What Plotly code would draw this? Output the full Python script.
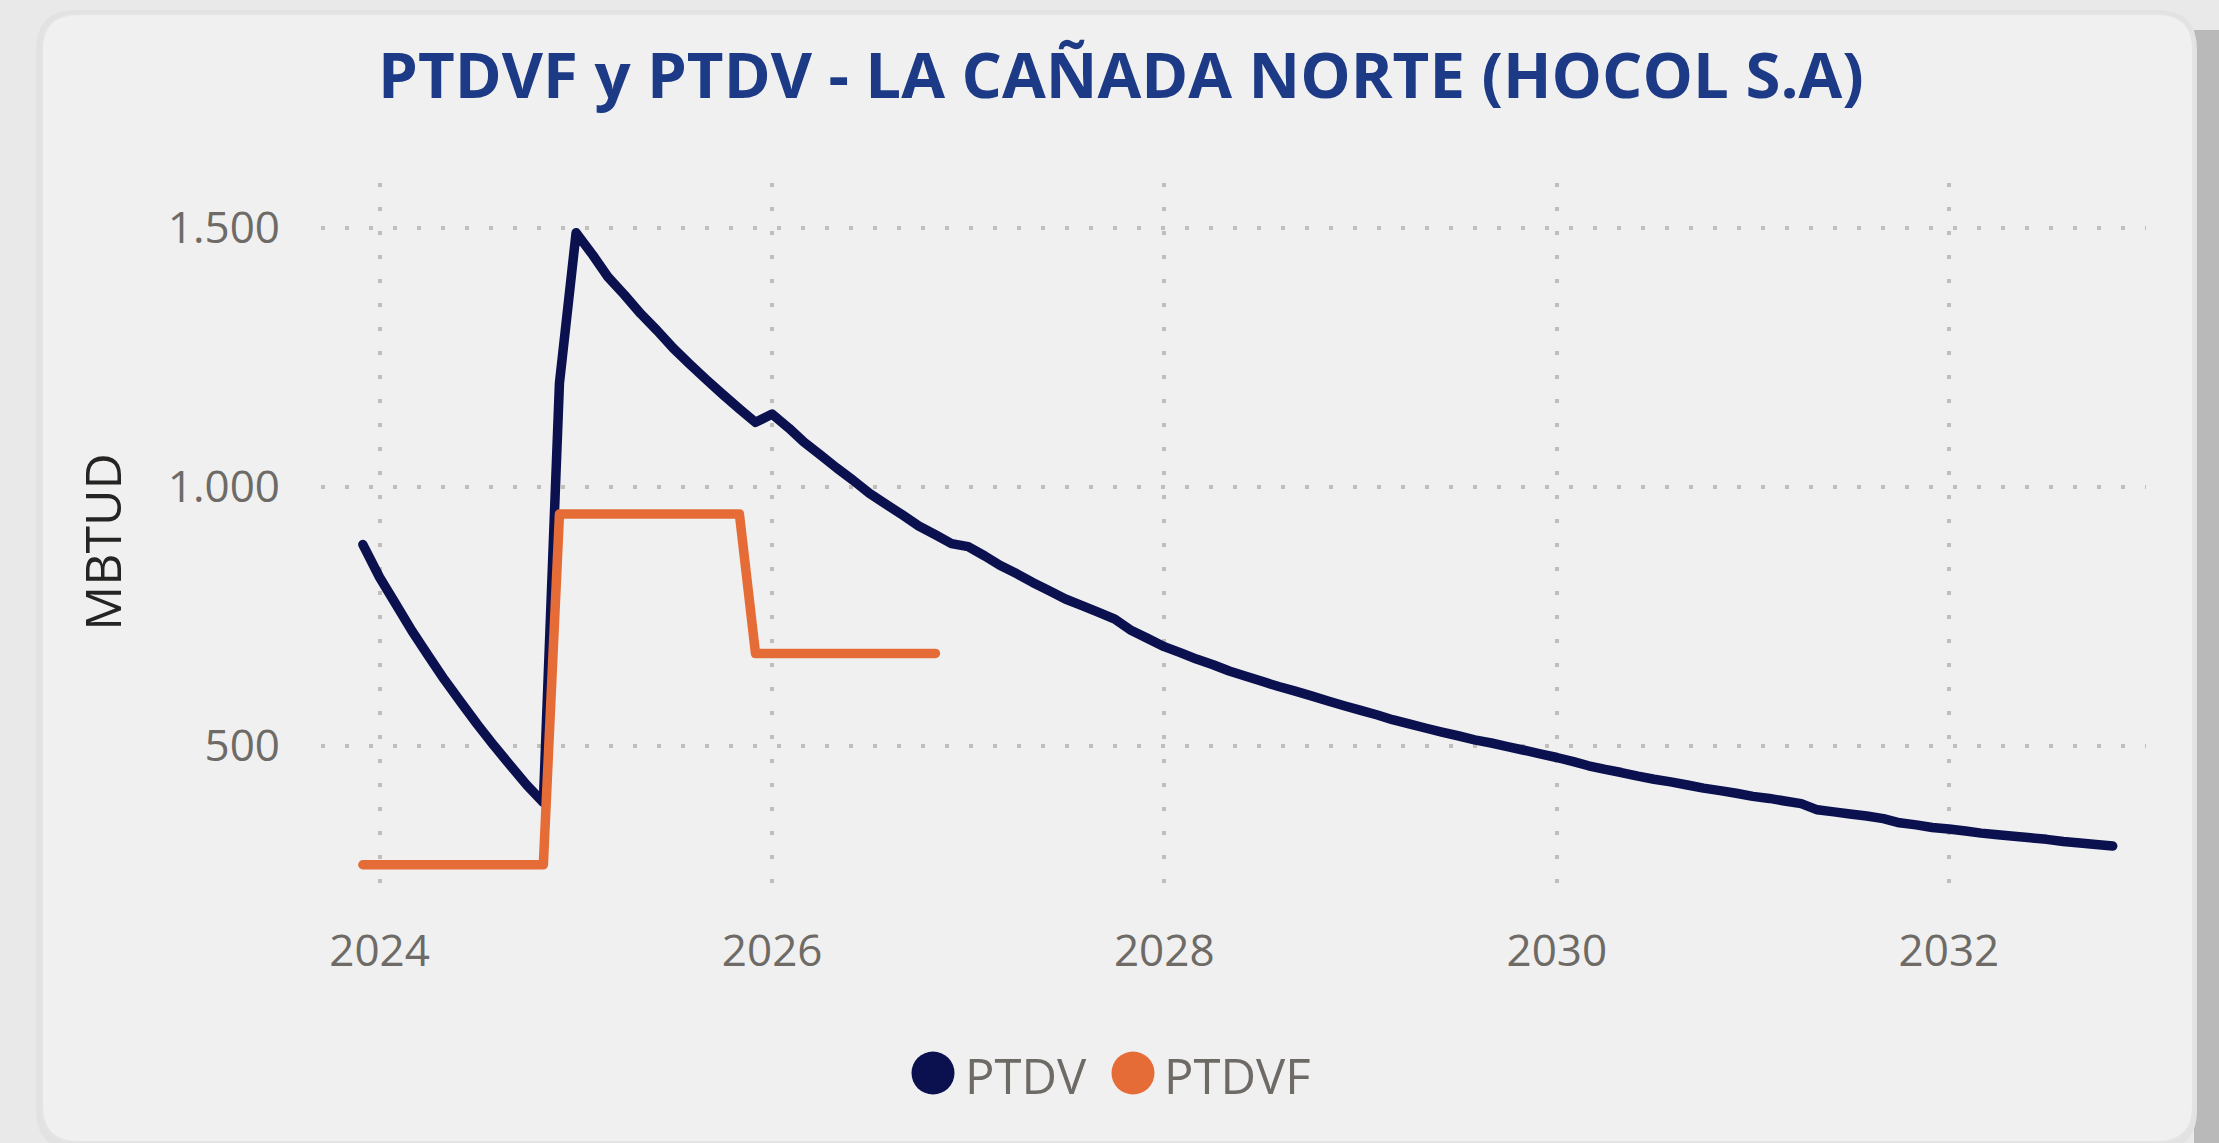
import pandas as pd
import plotly.graph_objects as go

# ---------------- data ----------------
ptdv_start = "2023-12-01"
ptdv_values = [
    888,
    825, 772, 722, 673, 627, 583, 541, 500, 461, 424, 390, 1200,
    1490, 1447, 1405, 1370, 1334, 1301, 1267, 1236, 1206, 1178, 1150, 1124,
    1140, 1113, 1086, 1061, 1036, 1012, 987, 966, 945, 924, 907, 890,
    884, 866, 848, 832, 815, 799, 783, 770, 757, 744, 722, 707,
    691, 679, 667, 656, 644, 634, 624, 614, 605, 596, 586, 577,
    568, 559, 550, 542, 534, 526, 519, 511, 505, 498, 491, 484,
    477, 469, 461, 454, 448, 441, 435, 430, 424, 418, 413, 408,
    402, 398, 393, 388, 376, 372, 368, 364, 359, 351, 347, 342,
    339, 335, 331, 328, 325, 322, 319, 315, 312, 309, 306,
]
ptdvf_start = "2023-12-01"
ptdvf_values = [270] * 12 + [947] * 12 + [678] * 12

ptdv_dates = pd.date_range(ptdv_start, periods=len(ptdv_values), freq="MS")
ptdvf_dates = pd.date_range(ptdvf_start, periods=len(ptdvf_values), freq="MS")

series_names = ["PTDV", "PTDVF"]
y_tick_vals = [500, 1000, 1500]
y_tick_text = ["500", "1.000", "1.500"]
x_tick_vals = ["2024-01-01", "2026-01-01", "2028-01-01", "2030-01-01", "2032-01-01"]
x_tick_text = ["2024", "2026", "2028", "2030", "2032"]

title_text = "PTDVF y PTDV - LA CAÑADA NORTE (HOCOL S.A)"
y_title = "MBTUD"

# ---------------- layout geometry ----------------
W, H = 2219, 1143
L, R, T, B = 321, 2146, 183, 901

def px2x(px):
    return (px - L) / (R - L)

def px2y(py):
    return (B - py) / (B - T)

NAVY = "#0B114F"
ORANGE = "#E66C37"
CARD = "#F0F0F0"
TICK = "#6E6A66"
GRID = "#C2BFBB"
FONT = "Open Sans, Noto Sans, sans-serif"

fig = go.Figure()
fig.add_trace(go.Scatter(x=ptdv_dates, y=ptdv_values, mode="lines", name=series_names[0],
                         line=dict(color=NAVY, width=9.5, simplify=False), showlegend=False))
fig.add_trace(go.Scatter(x=ptdvf_dates, y=ptdvf_values, mode="lines", name=series_names[1],
                         line=dict(color=ORANGE, width=9.5, simplify=False), showlegend=False))

def rounded_rect(x0, y0, x1, y1, r):
    X = lambda v: px2x(v)
    Y = lambda v: px2y(v)
    return (f"M {X(x0+r)},{Y(y0)} L {X(x1-r)},{Y(y0)} Q {X(x1)},{Y(y0)} {X(x1)},{Y(y0+r)} "
            f"L {X(x1)},{Y(y1-r)} Q {X(x1)},{Y(y1)} {X(x1-r)},{Y(y1)} "
            f"L {X(x0+r)},{Y(y1)} Q {X(x0)},{Y(y1)} {X(x0)},{Y(y1-r)} "
            f"L {X(x0)},{Y(y0+r)} Q {X(x0)},{Y(y0)} {X(x0+r)},{Y(y0)} Z")

shapes = [
    dict(type="rect", xref="paper", yref="paper", x0=px2x(2194), x1=px2x(2225),
         y0=px2y(30), y1=px2y(1150), fillcolor="#B9B9B9", line=dict(width=0), layer="below"),
    dict(type="path", xref="paper", yref="paper", path=rounded_rect(36, 10, 2197, 1150, 40),
         fillcolor="#E2E2E2", line=dict(width=0), layer="below"),
    dict(type="path", xref="paper", yref="paper", path=rounded_rect(42, 14, 2193, 1142, 36),
         fillcolor=CARD, line=dict(color="#E4E4E4", width=2), layer="below"),
]

legend_items = [(933, 1073, NAVY), (1133, 1073, ORANGE)]
for cx, cy, col in legend_items:
    shapes.append(dict(type="circle", xref="paper", yref="paper", xsizemode="pixel", ysizemode="pixel",
                       xanchor=px2x(cx), yanchor=px2y(cy), x0=-21.5, x1=21.5, y0=-21.5, y1=21.5,
                       fillcolor=col, line=dict(width=0)))

annotations = [
    dict(text=series_names[0], xref="paper", yref="paper", x=px2x(963), y=px2y(1075),
         xanchor="left", yanchor="middle", showarrow=False, font=dict(family=FONT, size=49, color=TICK)),
    dict(text=series_names[1], xref="paper", yref="paper", x=px2x(1162), y=px2y(1075),
         xanchor="left", yanchor="middle", showarrow=False, font=dict(family=FONT, size=49, color=TICK)),
]

fig.update_layout(
    width=W, height=H, autosize=False,
    margin=dict(l=L, r=W - R, t=T, b=H - B, pad=0),
    paper_bgcolor="#E9E9E9",
    plot_bgcolor=CARD,
    title=dict(text=f"<b>{title_text}</b>", xref="container", yref="container",
               x=1121 / W, y=1 - 76 / H, xanchor="center", yanchor="middle",
               font=dict(family=FONT, size=63.5, color="#1C3A85")),
    shapes=shapes,
    annotations=annotations,
    showlegend=False,
    xaxis=dict(type="date", range=["2023-09-14", "2033-01-02"], tickvals=x_tick_vals, ticktext=x_tick_text,
               showgrid=True, gridcolor=GRID, gridwidth=3.5, griddash="3.5px,20.5px",
               zeroline=False, showline=False, ticks="", ticklabelstandoff=20,
               tickfont=dict(family=FONT, size=44, color=TICK)),
    yaxis=dict(range=[200, 1586], tickvals=y_tick_vals, ticktext=y_tick_text,
               showgrid=True, gridcolor=GRID, gridwidth=3.5, griddash="3.5px,20.5px",
               zeroline=False, showline=False, ticks="", ticklabelstandoff=40,
               tickfont=dict(family=FONT, size=44, color=TICK),
               title=dict(text=y_title, standoff=30, font=dict(family=FONT, size=50, color="#252423"))),
)

post = ("document.body.style.margin='0';document.body.style.overflow='hidden';"
        "document.querySelectorAll('.scatterlayer path.js-line').forEach(function(p){"
        "p.style.strokeLinejoin='round';p.style.strokeLinecap='round';});")
fig.write_html("out.html", config={"displayModeBar": False}, post_script=post)
